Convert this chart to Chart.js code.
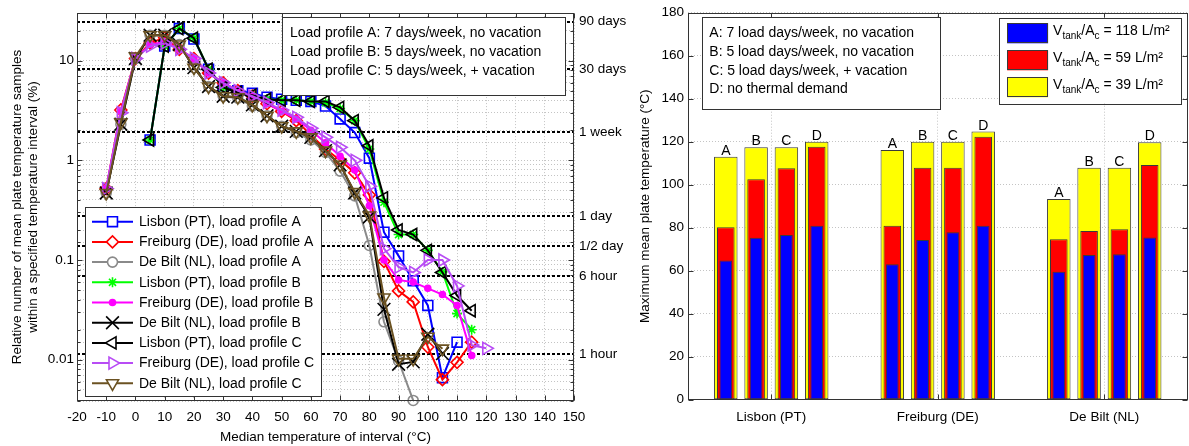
<!DOCTYPE html>
<html>
<head>
<meta charset="utf-8">
<script src="https://cdn.jsdelivr.net/npm/chart.js@4.4.0/dist/chart.umd.min.js"></script>
<style>
  html, body { margin: 0; padding: 0; background: #fff; }
  body { width: 1189px; height: 446px; position: relative; overflow: hidden; }
  canvas { position: absolute; top: 0; }
  #left { left: 0; }
  #right { left: 628px; }
</style>
</head>
<body>
<canvas id="left" width="645" height="446"></canvas>
<canvas id="right" width="561" height="446"></canvas>
<script>
// ---- left chart data: share of samples (%) per median temperature of interval
const temps = [-10, -5, 0, 5, 10, 15, 20, 25, 30, 35, 40, 45, 50, 55, 60, 65, 70, 75, 80, 85, 90, 95, 100, 105, 110, 115, 120];

const lisbonA   = [null, null, null, 1.6, 14, 21, 16.5, 8.2, 5.5, 5.0, 4.7, 4.3, 4.1, 4.0, 3.9, 3.5, 2.6, 1.9, 1.05, 0.19, 0.11, 0.062, 0.035, 0.0066, 0.015, null, null];
const freiburgA = [0.52, 3.2, 10.5, 15, 17, 13, 10.5, 7.5, 6.0, 5.0, 4.4, 3.7, 3.1, 2.5, 1.8, 1.3, 1.0, 0.75, 0.45, 0.097, 0.049, 0.038, 0.0134, 0.0063, 0.0094, 0.015, null];
const deBiltA   = [0.47, 2.3, 10.5, 18, 18, 14.5, 8.5, 5.5, 4.4, 4.2, 3.5, 2.8, 2.2, 1.9, 1.6, 1.2, 0.78, 0.44, 0.14, 0.024, 0.0097, 0.0039, null, null, null, null, null];
const lisbonB   = [null, null, null, 1.6, 14, 21, 16.8, 8.2, 5.4, 4.8, 4.5, 4.1, 4.0, 4.0, 3.9, 3.8, 3.3, 2.5, 1.3, 0.38, 0.18, 0.18, 0.125, 0.076, 0.029, 0.02, null];
const freiburgB = [0.52, 3.1, 10.5, 14.5, 15.5, 13, 10.5, 7.5, 6.0, 5.0, 4.4, 3.7, 3.1, 2.6, 2.0, 1.5, 1.1, 0.8, 0.35, 0.1, 0.063, 0.06, 0.052, 0.045, 0.035, 0.011, null];
const deBiltB   = [0.47, 2.3, 10.5, 18, 18, 14.5, 8.5, 5.5, 4.4, 4.3, 3.6, 2.8, 2.2, 1.95, 1.7, 1.25, 0.9, 0.47, 0.27, 0.032, 0.009, 0.0095, 0.018, 0.0115, null, null, null];
const lisbonC   = [null, null, null, 1.6, 14, 21, 16.8, 8.2, 5.4, 4.8, 4.5, 4.1, 4.0, 4.0, 3.9, 3.9, 3.4, 2.5, 1.4, 0.42, 0.2, 0.18, 0.125, 0.075, 0.044, 0.031, null];
const freiburgC = [0.52, 3.0, 10.5, 14, 15, 13, 10.5, 7.5, 6.0, 5.0, 4.4, 3.8, 3.2, 2.7, 2.1, 1.7, 1.35, 1.0, 0.55, 0.13, 0.085, 0.075, 0.1, 0.1, 0.055, 0.014, 0.013];
const deBiltC   = [0.47, 2.4, 11, 18, 18, 14.5, 8.5, 5.5, 4.4, 4.3, 3.6, 2.8, 2.2, 1.95, 1.7, 1.25, 0.9, 0.48, 0.28, 0.042, 0.0102, 0.0102, 0.017, 0.0129, null, null, null];

// reference durations (hours per year -> % of samples)
const refHours  = [2160, 720, 168, 24, 12, 6, 1];
const refLabels = ['90 days', '30 days', '1 week', '1 day', '1/2 day', '6 hour', '1 hour'];
const yearHours = 8760;

const profileNotes = [
  'Load profile A: 7 days/week, no vacation',
  'Load profile B: 5 days/week, no vacation',
  'Load profile C: 5 days/week, + vacation'
];

// ---- right chart data: maximum mean plate temperature (°C), rows = cities, cols = profiles A-D
const cities   = ['Lisbon (PT)', 'Freiburg (DE)', 'De Bilt (NL)'];
const profiles = ['A', 'B', 'C', 'D'];
const tank118 = [[64.8, 75.3, 76.6, 80.9], [63.0, 74.3, 77.9, 80.9], [59.5, 67.3, 67.6, 75.5]];
const tank59  = [[80.2, 102.5, 107.6, 117.7], [80.9, 107.9, 107.9, 122.3], [74.6, 78.5, 79.3, 109.2]];
const tank39  = [[113.0, 117.4, 117.4, 120.0], [116.1, 120.0, 120.0, 124.7], [93.3, 107.9, 107.9, 119.7]];
const tankRatios = ['118', '59', '39'];
const demandNotes = [
  'A: 7 load days/week, no vacation',
  'B: 5 load days/week, no vacation',
  'C: 5 load days/week, + vacation',
  'D: no thermal demand'
];

const FONT = "'Liberation Sans', Arial, Helvetica, sans-serif";
Chart.defaults.font.family = FONT;
Chart.defaults.font.size = 13.5;
Chart.defaults.color = '#000';

const isDecade = v => Math.abs(Math.log10(v) - Math.round(Math.log10(v))) < 1e-6;

// inward ticks + box frame, like the original plotting tool
function drawFrame(chart, yIsLog) {
  const {ctx, chartArea: a} = chart;
  const l = Math.round(a.left) + 0.5, r = Math.round(a.right) - 0.5;
  const t = Math.round(a.top) + 0.5, b = Math.round(a.bottom) - 0.5;
  ctx.save();
  ctx.strokeStyle = '#333';
  ctx.lineWidth = 1;
  ctx.beginPath();
  const xs = chart.scales.x;
  xs.ticks.forEach((tk, i) => {
    const px = Math.round(xs.getPixelForTick(i)) + 0.5;
    ctx.moveTo(px, b); ctx.lineTo(px, b - 5);
    ctx.moveTo(px, t); ctx.lineTo(px, t + 5);
  });
  const ys = chart.scales.y;
  ys.ticks.forEach((tk, i) => {
    const py = Math.round(ys.getPixelForTick(i)) + 0.5;
    const len = !yIsLog || isDecade(tk.value) ? 5 : 3;
    ctx.moveTo(l, py); ctx.lineTo(l + len, py);
    ctx.moveTo(r, py); ctx.lineTo(r - len, py);
  });
  ctx.stroke();
  ctx.strokeRect(l, t, r - l, b - t);
  ctx.restore();
}

function drawBox(ctx, x, y, w, h) {
  ctx.save();
  ctx.fillStyle = '#fff';
  ctx.fillRect(x, y, w, h);
  ctx.strokeStyle = '#333';
  ctx.lineWidth = 1;
  ctx.strokeRect(Math.round(x) + 0.5, Math.round(y) + 0.5, Math.round(w), Math.round(h));
  ctx.restore();
}

// ---------------- left chart ----------------
const series = [
  {label: 'Lisbon (PT), load profile A',   data: lisbonA,   color: '#0000ff', style: 'rect',     rot: 0,   radius: 7, filled: false},
  {label: 'Freiburg (DE), load profile A', data: freiburgA, color: '#ff0000', style: 'rectRot',  rot: 0,   radius: 6, filled: false},
  {label: 'De Bilt (NL), load profile A',  data: deBiltA,   color: '#8a8a8a', style: 'circle',   rot: 0,   radius: 5, filled: false},
  {label: 'Lisbon (PT), load profile B',   data: lisbonB,   color: '#00ff00', style: 'star',     rot: 0,   radius: 5, filled: false},
  {label: 'Freiburg (DE), load profile B', data: freiburgB, color: '#ff00ff', style: 'circle',   rot: 0,   radius: 3, filled: true},
  {label: 'De Bilt (NL), load profile B',  data: deBiltB,   color: '#000000', style: 'crossRot', rot: 0,   radius: 9, filled: false},
  {label: 'Lisbon (PT), load profile C',   data: lisbonC,   color: '#000000', style: 'triangle', rot: -90, radius: 7, filled: false},
  {label: 'Freiburg (DE), load profile C', data: freiburgC, color: '#b84cf5', style: 'triangle', rot: 90,  radius: 7, filled: false},
  {label: 'De Bilt (NL), load profile C',  data: deBiltC,   color: '#6b5222', style: 'triangle', rot: 180, radius: 7, filled: false}
];

const toPoints = vals => temps.map((t, i) => ({x: t, y: vals[i]})).filter(p => p.y !== null);
const refValues = refHours.map(h => h / yearHours * 100);
const yMin = 0.00385, yMax = 30;

const leftPlugin = {
  id: 'leftDecor',
  afterDatasetsDraw(chart) {
    const {ctx, chartArea: a} = chart;
    drawFrame(chart, true);

    // load profile note box (top right)
    const bw = 283, bh = 78, bx = a.right - 9 - bw, by = a.top + 4;
    drawBox(ctx, bx, by, bw, bh);
    ctx.save();
    ctx.font = '14px ' + FONT;
    ctx.fillStyle = '#000';
    ctx.textBaseline = 'middle';
    profileNotes.forEach((s, i) => ctx.fillText(s, bx + 8, by + 16 + i * 18.8));
    ctx.restore();

    // series legend (bottom left)
    const lw = 236, rowH = 20.2;
    const lh = 14.7 + (series.length - 1) * rowH + 12.7;
    const lx = a.left + 8, ly = a.bottom - 5 - lh;
    drawBox(ctx, lx, ly, lw, lh);
    ctx.save();
    ctx.font = '14px ' + FONT;
    ctx.textBaseline = 'middle';
    chart.data.datasets.forEach((ds, i) => {
      const cy = ly + 14.7 + i * rowH;
      ctx.strokeStyle = ds.borderColor;
      ctx.lineWidth = 2;
      ctx.beginPath();
      ctx.moveTo(lx + 7, cy); ctx.lineTo(lx + 48, cy);
      ctx.stroke();
      ctx.fillStyle = series[i].filled ? ds.borderColor : '#fff';
      ctx.lineWidth = ds.pointBorderWidth;
      Chart.helpers.drawPoint(ctx, {
        pointStyle: ds.pointStyle, rotation: ds.pointRotation,
        radius: ds.pointRadius, borderWidth: ds.pointBorderWidth
      }, lx + 27.5, cy);
      ctx.fillStyle = '#000';
      ctx.fillText(ds.label, lx + 54, cy + 0.5);
    });
    ctx.restore();
  }
};

new Chart(document.getElementById('left'), {
  type: 'line',
  data: {
    datasets: series.map((s, i) => ({
      label: s.label,
      data: toPoints(s.data),
      borderColor: s.color,
      backgroundColor: s.color,
      borderWidth: 2,
      pointStyle: s.style,
      pointRotation: s.rot,
      pointRadius: s.radius,
      pointHoverRadius: s.radius,
      pointBorderWidth: 1.6,
      pointBorderColor: s.color,
      pointBackgroundColor: s.filled ? s.color : 'rgba(0,0,0,0)',
      tension: 0,
      clip: false,
      order: series.length - i
    }))
  },
  options: {
    responsive: false,
    animation: false,
    layout: {padding: {top: 11, left: 0, right: 0, bottom: 0}},
    plugins: {legend: {display: false}, tooltip: {enabled: false}},
    scales: {
      x: {
        type: 'linear', min: -20, max: 150,
        ticks: {stepSize: 10, autoSkip: false, maxRotation: 0, padding: 8},
        grid: {color: '#c4c4c4', drawTicks: false},
        border: {display: false, dash: [1, 2]},
        title: {display: true, text: 'Median temperature of interval (°C)', padding: {top: 0, bottom: 1}},
        afterFit: s => { s.height = 45; }
      },
      y: {
        type: 'logarithmic', position: 'left', min: yMin, max: yMax,
        ticks: {
          autoSkip: false, padding: 3,
          callback: v => isDecade(v) ? String(Number(v.toPrecision(6))) : ''
        },
        grid: {color: '#c4c4c4', drawTicks: false},
        border: {display: false, dash: [1, 2]},
        title: {
          display: true,
          text: ['Relative number of mean plate temperature samples', 'within a specified temperature interval (%)'],
          padding: {top: 10, bottom: 0},
          font: {size: 13.5, lineHeight: 1.15}
        },
        afterFit: s => { s.width = 77; }
      },
      y2: {
        type: 'logarithmic', position: 'right', min: yMin, max: yMax,
        afterBuildTicks: s => { s.ticks = refValues.map(v => ({value: v})); },
        ticks: {autoSkip: false, padding: 5, callback: (v, i) => refLabels[i]},
        grid: {color: '#000', lineWidth: 2, drawTicks: false},
        border: {display: false, dash: [3, 2]},
        afterFit: s => { s.width = 71; }
      }
    }
  },
  plugins: [leftPlugin]
});

// ---------------- right chart ----------------
const tanks = [
  {values: tank118, color: '#0000ff', width: 0.42},
  {values: tank59,  color: '#ff0000', width: 0.58},
  {values: tank39,  color: '#ffff00', width: 0.775}
];

const barDatasets = [];
tanks.forEach((tk, k) => {
  profiles.forEach((p, j) => {
    barDatasets.push({
      label: 'Vtank/Ac = ' + tankRatios[k] + ' L/m² ' + p,
      data: cities.map((c, i) => tk.values[i][j]),
      stack: p,
      backgroundColor: tk.color,
      borderColor: '#3a3a3a',
      borderWidth: 1,
      borderSkipped: false,
      barPercentage: tk.width,
      categoryPercentage: 0.728
    });
  });
});

function drawRatioText(ctx, x, y, ratio) {
  const parts = [['V', 14, 0], ['tank', 10, 4], ['/A', 14, 0], ['c', 10, 4], [' = ' + ratio + ' L/m²', 14, 0]];
  let cx = x;
  parts.forEach(([txt, size, dy]) => {
    ctx.font = size + 'px ' + FONT;
    ctx.fillText(txt, cx, y + dy);
    cx += ctx.measureText(txt).width;
  });
}

const rightPlugin = {
  id: 'rightDecor',
  afterDatasetsDraw(chart) {
    const {ctx, chartArea: a} = chart;
    drawFrame(chart, false);

    // A-D labels over the largest bars
    ctx.save();
    ctx.font = '14px ' + FONT;
    ctx.fillStyle = '#000';
    ctx.textAlign = 'center';
    ctx.textBaseline = 'alphabetic';
    profiles.forEach((p, j) => {
      const meta = chart.getDatasetMeta(2 * profiles.length + j);
      meta.data.forEach(bar => ctx.fillText(p, bar.x, bar.y - 2));
    });
    ctx.restore();

    // load profile description box
    const dx = a.left + 13.7, dy = a.top + 4.6, dw = 238.3, dh = 92;
    drawBox(ctx, dx, dy, dw, dh);
    ctx.save();
    ctx.font = '14px ' + FONT;
    ctx.fillStyle = '#000';
    ctx.textBaseline = 'middle';
    demandNotes.forEach((s, i) => ctx.fillText(s, dx + 7.6, dy + 16 + i * 18.7));
    ctx.restore();

    // tank volume legend
    const gw = 182.4, gh = 85.6, gx = a.right - 6 - gw, gy = a.top + 5;
    drawBox(ctx, gx, gy, gw, gh);
    ctx.save();
    tanks.forEach((tk, k) => {
      const cy = gy + 15.6 + k * 27;
      ctx.fillStyle = tk.color;
      ctx.fillRect(gx + 8, cy - 10, 41, 20);
      ctx.strokeStyle = '#3a3a3a';
      ctx.lineWidth = 1;
      ctx.strokeRect(Math.round(gx + 8) + 0.5, Math.round(cy - 10) + 0.5, 40, 19);
      ctx.fillStyle = '#000';
      ctx.textBaseline = 'alphabetic';
      drawRatioText(ctx, gx + 54, cy + 1.5, tankRatios[k]);
    });
    ctx.restore();
  }
};

new Chart(document.getElementById('right'), {
  type: 'bar',
  data: {labels: cities, datasets: barDatasets},
  options: {
    responsive: false,
    animation: false,
    layout: {padding: {top: 12.7, right: 1.5, left: 0, bottom: 0}},
    plugins: {legend: {display: false}, tooltip: {enabled: false}},
    scales: {
      x: {
        stacked: true,
        ticks: {padding: 9, maxRotation: 0},
        grid: {color: '#c4c4c4', drawTicks: false, offset: false},
        border: {display: false, dash: [1, 2]},
        afterFit: s => { s.height = 46.3; }
      },
      y: {
        stacked: false, min: 0, max: 180,
        ticks: {stepSize: 20, padding: 4},
        grid: {color: '#c4c4c4', drawTicks: false},
        border: {display: false, dash: [1, 2]},
        title: {display: true, text: 'Maximum mean plate temperature (°C)', padding: {top: 10, bottom: 0}, font: {size: 13.5, lineHeight: 1.15}},
        afterFit: s => { s.width = 60; }
      }
    }
  },
  plugins: [rightPlugin]
});
</script>
</body>
</html>
